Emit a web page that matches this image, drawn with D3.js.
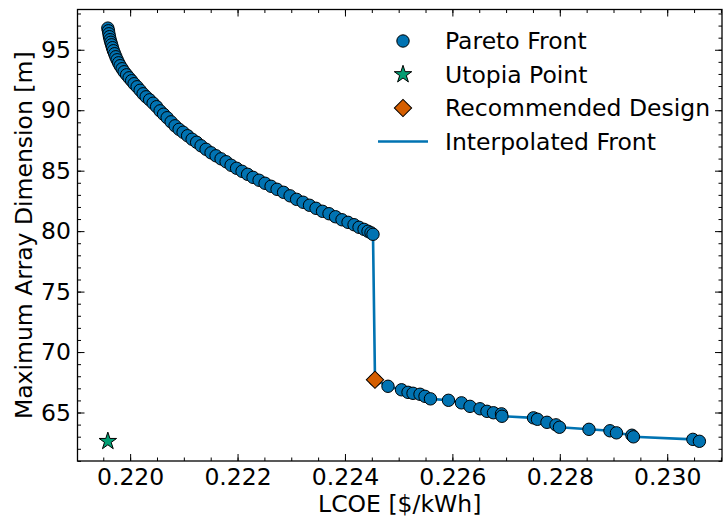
<!DOCTYPE html>
<html>
<head>
<meta charset="utf-8">
<script src="https://cdn.jsdelivr.net/npm/d3@7"></script>
<style>
  html, body { margin: 0; padding: 0; background: #fff; }
  svg { display: block; font-family: "DejaVu Sans", sans-serif; }
</style>
</head>
<body>
<svg id="chart" width="725" height="521"></svg>
<script>
// Pareto front: LCOE [$/kWh] vs. maximum array dimension [m]
const paretoLcoe = [
  0.219585, 0.219596, 0.219605, 0.219615, 0.219628, 0.219641, 0.219656, 0.219671,
  0.219689, 0.219712, 0.219734, 0.219758, 0.219786, 0.219814, 0.219851, 0.219888,
  0.219935, 0.219981, 0.220028, 0.220074, 0.220130, 0.220186, 0.220242, 0.220298,
  0.220363, 0.220428, 0.220493, 0.220558, 0.220623, 0.220689, 0.220763, 0.220837,
  0.220912, 0.220986, 0.221070, 0.221154, 0.221238, 0.221321, 0.221414, 0.221507,
  0.221600, 0.221693, 0.221787, 0.221880, 0.221982, 0.222084, 0.222187, 0.222289,
  0.222401, 0.222512, 0.222624, 0.222736, 0.222857, 0.222978, 0.223099, 0.223220,
  0.223340, 0.223461, 0.223582, 0.223703, 0.223824, 0.223945, 0.224057, 0.224169,
  0.224262, 0.224355, 0.224429, 0.224485, 0.224522,
  0.224559, 0.224801, 0.225053, 0.225174, 0.225267, 0.225397, 0.225490, 0.225592,
  0.225927, 0.226169, 0.226328, 0.226514, 0.226644, 0.226765, 0.226914, 0.226923,
  0.227510, 0.227584, 0.227761, 0.227929, 0.227994, 0.228543, 0.228934, 0.229055,
  0.229343, 0.229371, 0.230478, 0.230599
];
const paretoDim = [
  96.79, 96.57, 96.32, 96.08, 95.83, 95.62, 95.41, 95.17,
  94.92, 94.67, 94.42, 94.17, 93.92, 93.68, 93.43, 93.18,
  92.93, 92.68, 92.44, 92.19, 91.94, 91.65, 91.36, 91.11,
  90.86, 90.58, 90.29, 89.95, 89.67, 89.38, 89.04, 88.71,
  88.42, 88.18, 87.89, 87.60, 87.35, 87.06, 86.77, 86.48,
  86.23, 85.98, 85.74, 85.45, 85.20, 84.95, 84.70, 84.45,
  84.21, 83.96, 83.71, 83.46, 83.21, 82.92, 82.63, 82.39,
  82.14, 81.89, 81.64, 81.44, 81.19, 80.94, 80.73, 80.53,
  80.32, 80.15, 79.99, 79.86, 79.74,
  67.71, 67.17, 66.88, 66.67, 66.59, 66.51, 66.34, 66.13,
  66.01, 65.80, 65.51, 65.31, 65.10, 64.98, 64.89, 64.69,
  64.56, 64.44, 64.19, 63.98, 63.78, 63.61, 63.49, 63.32,
  63.12, 62.99, 62.78, 62.62
];
const utopiaPoint = [0.219585, 62.62];
const recommendedDesign = [0.224559, 67.71];

const xTicks = [0.220, 0.222, 0.224, 0.226, 0.228, 0.230];
const yTicks = [65, 70, 75, 80, 85, 90, 95];
const legendLabels = ["Pareto Front", "Utopia Point", "Recommended Design", "Interpolated Front"];

const colPareto = "#0173b2", colUtopia = "#029e73", colRec = "#d55e00";

const svg = d3.select("#chart");
const plot = { left: 77.5, right: 722, top: 9.5, bottom: 461 };

const x = d3.scaleLinear().domain([0.21902, 0.23102]).range([plot.left, plot.right]);
const y = d3.scaleLinear().domain([60.99, 98.33]).range([plot.bottom, plot.top]);

const pts = paretoLcoe.map((v, i) => [v, paretoDim[i]]);

// Interpolated front line (behind markers)
const line = d3.line().x(d => x(d[0])).y(d => y(d[1]));
svg.append("path")
  .datum(pts.slice().sort((a, b) => a[0] - b[0]))
  .attr("d", line)
  .attr("fill", "none")
  .attr("stroke", colPareto)
  .attr("stroke-width", 2.6)
  .attr("stroke-linejoin", "round");

// Pareto points
svg.append("g").selectAll("circle").data(pts).join("circle")
  .attr("cx", d => x(d[0])).attr("cy", d => y(d[1])).attr("r", 6.2)
  .attr("fill", colPareto).attr("stroke", "#000").attr("stroke-width", 1);

// Utopia point
svg.append("path")
  .attr("d", d3.symbol(d3.symbolStar, 95)())
  .attr("transform", `translate(${x(utopiaPoint[0])},${y(utopiaPoint[1])})`)
  .attr("fill", colUtopia).attr("stroke", "#000").attr("stroke-width", 1);

// Recommended design
svg.append("path")
  .attr("d", d3.symbol(d3.symbolSquare, 150)())
  .attr("transform", `translate(${x(recommendedDesign[0])},${y(recommendedDesign[1])}) rotate(45)`)
  .attr("fill", colRec).attr("stroke", "#000").attr("stroke-width", 1);

// Axes with inward ticks on all four sides
const fontPx = 23.5;
const xMinor = d3.range(0.2190, 0.23101, 0.0005).filter(v => x(v) >= plot.left && x(v) <= plot.right);
const yMinor = d3.range(61, 98.5, 1);

function styleAxis(g) {
  g.select(".domain").remove();
  g.selectAll(".tick line").attr("stroke", "#000").attr("stroke-width", 1);
}

const bottomMinor = svg.append("g").attr("transform", `translate(0,${plot.bottom})`)
  .call(d3.axisBottom(x).tickValues(xMinor).tickSize(-3.5).tickFormat(""));
styleAxis(bottomMinor);
const bottom = svg.append("g").attr("transform", `translate(0,${plot.bottom})`)
  .call(d3.axisBottom(x).tickValues(xTicks).tickSize(-7).tickPadding(7).tickFormat(d3.format(".3f")));
styleAxis(bottom);
bottom.selectAll("text").attr("font-size", fontPx).attr("fill", "#000").attr("font-family", "DejaVu Sans");

const topMinor = svg.append("g").attr("transform", `translate(0,${plot.top})`)
  .call(d3.axisTop(x).tickValues(xMinor).tickSize(-3.5).tickFormat(""));
styleAxis(topMinor);
const topMajor = svg.append("g").attr("transform", `translate(0,${plot.top})`)
  .call(d3.axisTop(x).tickValues(xTicks).tickSize(-7).tickFormat(""));
styleAxis(topMajor);

const leftMinor = svg.append("g").attr("transform", `translate(${plot.left},0)`)
  .call(d3.axisLeft(y).tickValues(yMinor).tickSize(-3.5).tickFormat(""));
styleAxis(leftMinor);
const left = svg.append("g").attr("transform", `translate(${plot.left},0)`)
  .call(d3.axisLeft(y).tickValues(yTicks).tickSize(-7).tickPadding(6.5).tickFormat(d3.format("d")));
styleAxis(left);
left.selectAll("text").attr("font-size", fontPx).attr("fill", "#000").attr("font-family", "DejaVu Sans");

const rightMinor = svg.append("g").attr("transform", `translate(${plot.right},0)`)
  .call(d3.axisRight(y).tickValues(yMinor).tickSize(-3.5).tickFormat(""));
styleAxis(rightMinor);
const rightMajor = svg.append("g").attr("transform", `translate(${plot.right},0)`)
  .call(d3.axisRight(y).tickValues(yTicks).tickSize(-7).tickFormat(""));
styleAxis(rightMajor);

// Frame
svg.append("rect")
  .attr("x", plot.left).attr("y", plot.top)
  .attr("width", plot.right - plot.left).attr("height", plot.bottom - plot.top)
  .attr("fill", "none").attr("stroke", "#000").attr("stroke-width", 1.3);

// Axis titles
svg.append("text")
  .attr("x", (plot.left + plot.right) / 2).attr("y", 512)
  .attr("text-anchor", "middle").attr("font-size", fontPx)
  .text("LCOE [$/kWh]");
svg.append("text")
  .attr("transform", `translate(24,${(plot.top + plot.bottom) / 2}) rotate(-90)`)
  .attr("text-anchor", "middle").attr("dominant-baseline", "central").attr("font-size", fontPx)
  .text("Maximum Array Dimension [m]");

// Legend
const legend = svg.append("g");
const lx = 403, ly0 = 41, ldy = 33.5, tx = 445;
legendLabels.forEach((lab, i) => {
  const ly = ly0 + i * ldy;
  if (i === 0) {
    legend.append("circle").attr("cx", lx).attr("cy", ly).attr("r", 6.2)
      .attr("fill", colPareto).attr("stroke", "#000").attr("stroke-width", 1);
  } else if (i === 1) {
    legend.append("path").attr("d", d3.symbol(d3.symbolStar, 95)())
      .attr("transform", `translate(${lx},${ly})`)
      .attr("fill", colUtopia).attr("stroke", "#000").attr("stroke-width", 1);
  } else if (i === 2) {
    legend.append("path").attr("d", d3.symbol(d3.symbolSquare, 150)())
      .attr("transform", `translate(${lx},${ly}) rotate(45)`)
      .attr("fill", colRec).attr("stroke", "#000").attr("stroke-width", 1);
  } else {
    legend.append("line").attr("x1", 378).attr("x2", 428).attr("y1", ly).attr("y2", ly)
      .attr("stroke", colPareto).attr("stroke-width", 2.6);
  }
  legend.append("text").attr("x", tx).attr("y", ly)
    .attr("dominant-baseline", "central").attr("font-size", fontPx)
    .text(lab);
});
</script>
</body>
</html>
